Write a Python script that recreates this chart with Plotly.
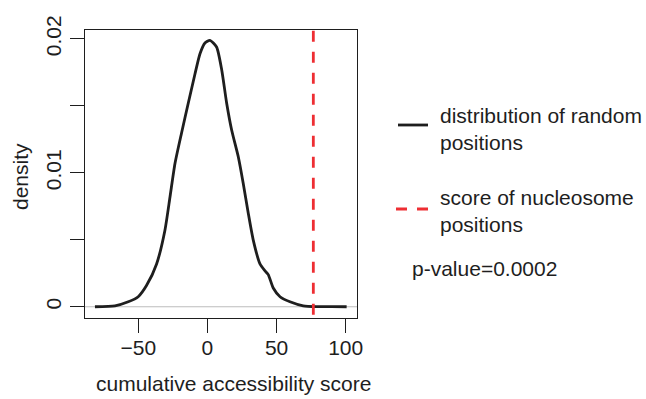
import plotly.graph_objects as go

# Density curve of random positions
score_x = [-81.4, -66.9, -57.3, -50.1, -44.0, -36.8, -30.8, -27.1, -23.5, -18.7,
           -13.9, -9.0, -5.4, -1.8, 1.8, 6.6, 10.3, 13.9, 17.5, 22.3,
           25.9, 29.5, 33.1, 38.0, 41.5, 44.0, 47.6, 52.5, 59.7, 69.3, 79.0, 90.0, 100.7]
density_y = [0.0, 0.00007, 0.00037, 0.00075, 0.0016, 0.0032, 0.0057, 0.0082, 0.0107, 0.0130,
             0.0152, 0.0174, 0.0189, 0.0197, 0.0199, 0.0194, 0.0177, 0.0152, 0.0132, 0.0112,
             0.0092, 0.0070, 0.0050, 0.0032, 0.0027, 0.0024, 0.0014, 0.00075, 0.00037, 0.00007, 0.00001, 0.00001, 0.0]

nucleosome_score = 76.6
p_value_text = "p-value=0.0002"

x_tick_vals = [-50, 0, 50, 100]
x_tick_text = ["\u221250", "0", "50", "100"]
y_tick_vals = [0, 0.005, 0.01, 0.015, 0.02]
y_tick_text = ["0", "", "0.01", "", "0.02"]

legend_labels = ["distribution of random<br>positions", "score of nucleosome<br>positions"]

FONT = "Liberation Sans, Arial, Helvetica, sans-serif"
FS = 21
RED = "#ee2e33"
INK = "#1e1e1e"

W, H = 646, 399
L, R, T, B = 85, 357, 30, 318
pw, ph = R - L, B - T


def px(xp):
    return (xp - L) / pw


def py(yp):
    return (B - yp) / ph


fig = go.Figure()
fig.add_trace(go.Scatter(x=score_x, y=density_y, mode="lines",
                         line=dict(color=INK, width=2.8, shape="spline", smoothing=0.6),
                         showlegend=False, hoverinfo="skip"))
fig.add_trace(go.Scatter(x=[nucleosome_score, nucleosome_score], y=[-0.01, 0.03], mode="lines",
                         line=dict(color=RED, width=2.8, dash="11px,10px"),
                         showlegend=False, hoverinfo="skip"))

shapes = [
    dict(type="line", xref="paper", yref="y", x0=0, x1=1, y0=0, y1=0,
         line=dict(color="#bdbdbd", width=1), layer="below"),
    dict(type="line", xref="paper", yref="paper", x0=px(398), x1=px(428), y0=py(125), y1=py(125),
         line=dict(color=INK, width=2.8)),
    dict(type="line", xref="paper", yref="paper", x0=px(396), x1=px(428), y0=py(209), y1=py(209),
         line=dict(color=RED, width=2.8, dash="11px,10px")),
]

annotations = [
    dict(text=legend_labels[0], xref="paper", yref="paper", x=px(438), y=py(129),
         xanchor="left", yanchor="middle", align="left", showarrow=False,
         font=dict(family=FONT, size=FS, color=INK)),
    dict(text=legend_labels[1], xref="paper", yref="paper", x=px(438), y=py(211),
         xanchor="left", yanchor="middle", align="left", showarrow=False,
         font=dict(family=FONT, size=FS, color=INK)),
    dict(text=p_value_text, xref="paper", yref="paper", x=px(410), y=py(268),
         xanchor="left", yanchor="middle", align="left", showarrow=False,
         font=dict(family=FONT, size=FS, color=INK)),
    dict(text="density", xref="paper", yref="paper", x=px(20), y=py(177), textangle=-90,
         xanchor="center", yanchor="middle", showarrow=False,
         font=dict(family=FONT, size=FS, color=INK)),
    dict(text="cumulative accessibility score", xref="paper", yref="paper", x=px(233), y=py(383),
         xanchor="center", yanchor="middle", showarrow=False,
         font=dict(family=FONT, size=FS, color=INK)),
]

fig.update_layout(
    width=W, height=H,
    margin=dict(l=L, r=W - R, t=T, b=H - B, pad=0),
    paper_bgcolor="white", plot_bgcolor="white",
    font=dict(family=FONT, size=FS, color=INK),
    shapes=shapes, annotations=annotations,
    xaxis=dict(range=[-88.6, 108.2], tickvals=x_tick_vals, ticktext=x_tick_text,
               showgrid=False, zeroline=False, showline=True, mirror=True,
               linecolor=INK, linewidth=1.3, ticks="outside", ticklen=14,
               tickwidth=1.3, tickcolor=INK, ticklabelstandoff=-3,
               tickfont=dict(family=FONT, size=FS, color=INK)),
    yaxis=dict(range=[-0.00084, 0.02067], tickvals=y_tick_vals, ticktext=y_tick_text,
               showgrid=False, zeroline=False, showline=True, mirror=True,
               linecolor=INK, linewidth=1.3, ticks="outside", ticklen=14,
               tickwidth=1.3, tickcolor=INK, tickangle=-90,
               tickfont=dict(family=FONT, size=FS, color=INK)),
)

fig.write_html("out.html", config={"displayModeBar": False},
               post_script="document.body.style.margin='0';document.body.style.overflow='hidden';")
